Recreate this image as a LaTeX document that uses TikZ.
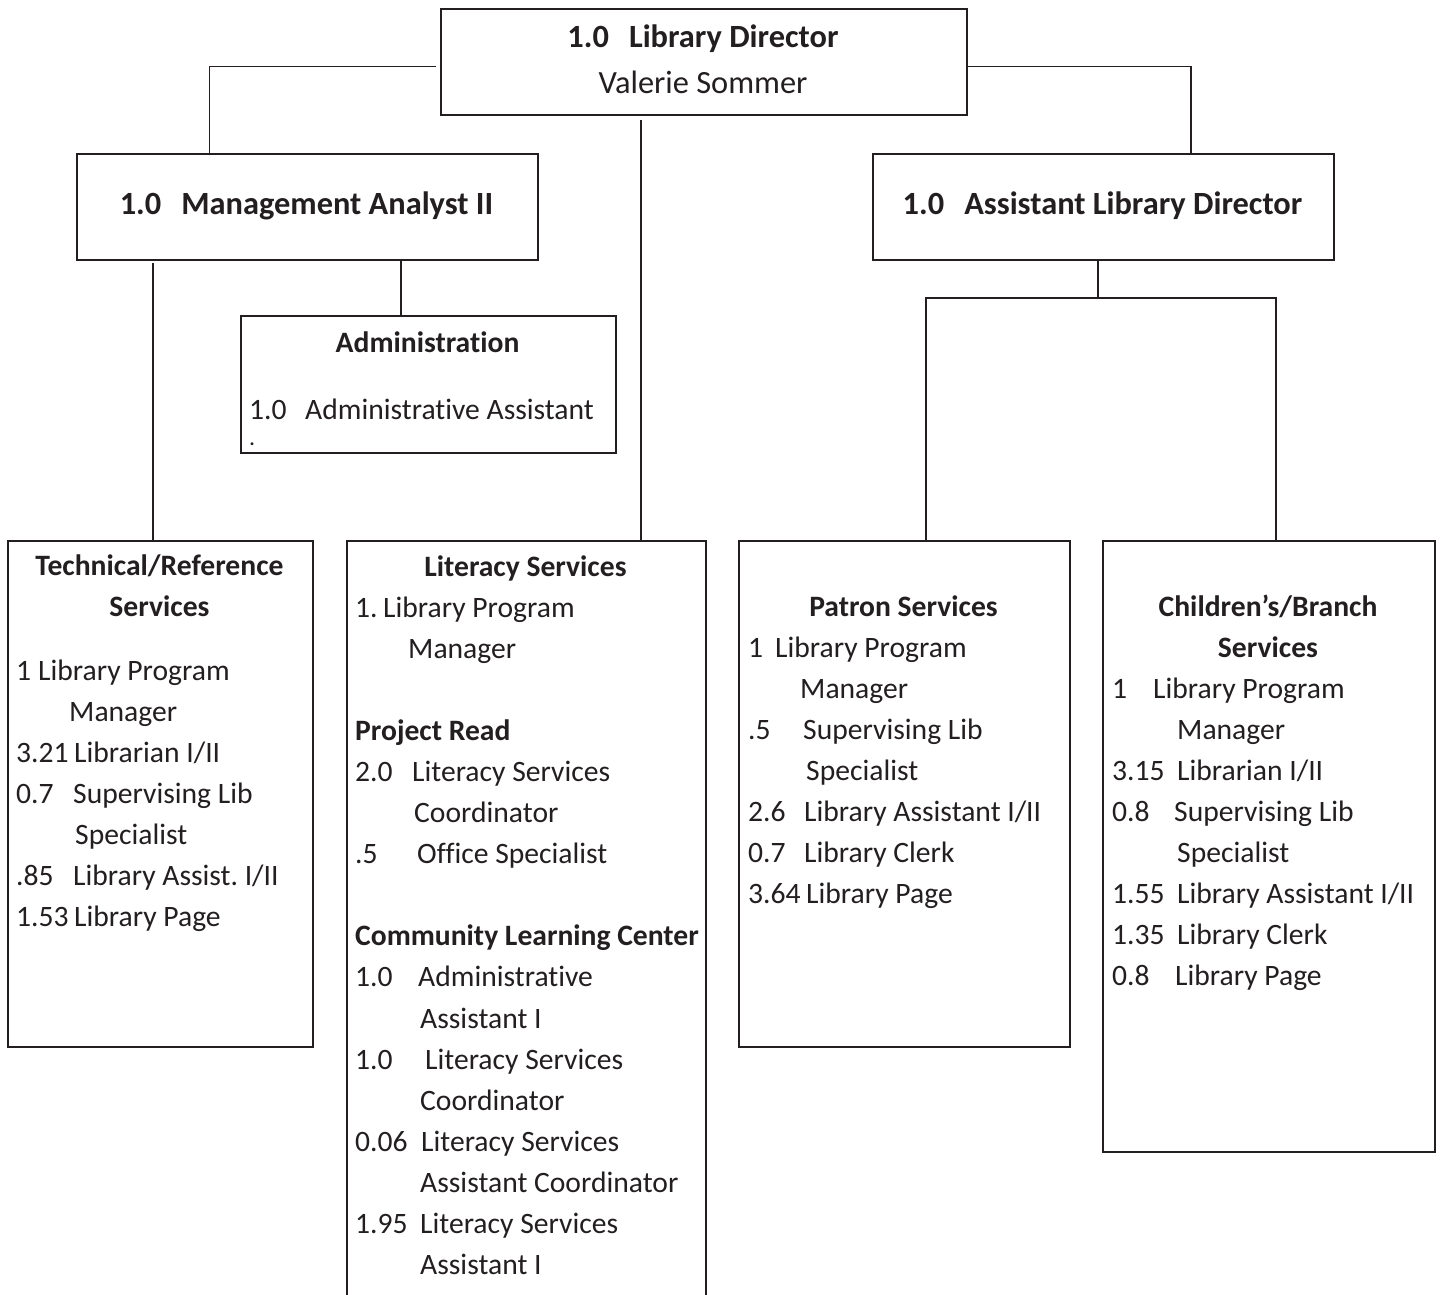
\documentclass[tikz,border=0pt]{standalone}
\usepackage{fontspec}
\setmainfont{Carlito}[Ligatures=NoCommon]
\usetikzlibrary{calc}
\frenchspacing
\definecolor{ink}{RGB}{35,31,32}
\newcommand\fs{\fontsize{29.6}{41.1}\selectfont}
\newcommand\fstop{\fontsize{32.4}{41.1}\selectfont}
\newcommand\num[2]{\makebox[#1][l]{#2}}
\newcommand\lines[1]{\begin{tabular}[t]{@{}l@{}}#1\end{tabular}}
\tikzset{
  orgbox/.style={draw=ink, line width=2.2pt, inner sep=0, anchor=north west},
  link/.style={draw=ink, line width=1.9pt},
  body/.style={inner sep=0, anchor=base west, font=\fs, text=ink},
  head/.style={inner sep=0, anchor=base, font=\fs\bfseries, text=ink},
  tophead/.style={inner sep=0, anchor=base, font=\fstop\bfseries, text=ink},
  topplain/.style={inner sep=0, anchor=base, font=\fstop, text=ink}
}
\begin{document}
\begin{tikzpicture}[x=1pt,y=-1pt]
\useasboundingbox[fill=white] (0,0) rectangle (1443,1295);
\clip (0,0) rectangle (1443,1295);

% boxes
\node[orgbox, minimum width=526pt, minimum height=106pt] (dir) at (440,8) {};
\node[orgbox, minimum width=461pt, minimum height=106pt] (ma)  at (76,153) {};
\node[orgbox, minimum width=461pt, minimum height=106pt] (ald) at (872,153) {};
\node[orgbox, minimum width=375pt, minimum height=137pt] (adm) at (240,315) {};
\node[orgbox, minimum width=305pt, minimum height=506pt] (tech) at (7,540) {};
\node[orgbox, minimum width=359pt, minimum height=800pt] (lit) at (346,540) {};
\node[orgbox, minimum width=331pt, minimum height=506pt] (pat) at (738,540) {};
\node[orgbox, minimum width=332pt, minimum height=611pt] (chi) at (1102,540) {};

% connectors
\coordinate (dl) at (436,66.5);
\coordinate (bus) at (1098,298);
\draw[link] (dl) -| ($(ma.north west)+(133.5,0)$);
\draw[link] ($(dir.north east)+(0,58.5)$) -| ($(ald.north west)+(319,0)$);
\draw[link] ($(dir.south west)+(201,4)$) -- ($(lit.north west)+(295,0)$);
\draw[link] ($(ma.south west)+(77,2)$) -- ($(tech.north west)+(146,0)$);
\draw[link] ($(ma.south west)+(325,0)$) -- ($(adm.north west)+(161,0)$);
\draw[link] ($(ald.south west)+(226,0)$) -- (bus);
\draw[link] ($(pat.north west)+(188,0)$) |- (bus) -| ($(chi.north west)+(174,0)$);

% top level
\node[tophead] (dirt) at (703,48) {1.0\hspace{0.62em}Library Director};
\node[topplain] (dirn) at (703,94) {Valerie Sommer};
\node[tophead] (mat) at (306.5,214) {1.0\hspace{0.62em}Management Analyst II};
\node[tophead] (aldt) at (1102.5,214) {1.0\hspace{0.62em}Assistant Library Director};

% administration
\node[head] (admt) at (427.5,352) {Administration};
\node[body] (admb) at (249,419) {\num{56pt}{1.0}Administrative Assistant};
\node[inner sep=0, anchor=base west, font=\fontsize{24}{26}\selectfont, text=ink] (admd) at (249,445) {.};

% technical / reference
\node[head] (techt1) at (159.5,575) {Technical/Reference};
\node[head] (techt2) at (159.5,616) {Services};
\node[body] (techb) at (16,680) {\lines{%
  \num{22pt}{1}Library Program\\
  \hspace*{53pt}Manager\\
  \num{58pt}{3.21}Librarian I/II\\
  \num{57pt}{0.7}Supervising Lib\\
  \hspace*{59pt}Specialist\\
  \num{57pt}{.85}Library Assist. I/II\\
  \num{58pt}{1.53}Library Page}};

% literacy
\node[head] (litt) at (525.5,576) {Literacy Services};
\node[body] (litb) at (355,617) {\lines{%
  \num{28pt}{1.}Library Program\\
  \hspace*{53pt}Manager\\
  \\
  \textbf{Project Read}\\
  \num{57pt}{2.0}Literacy Services\\
  \hspace*{59pt}Coordinator\\
  \num{62pt}{.5}Office Specialist\\
  \\
  \textbf{Community Learning Center}\\
  \num{63pt}{1.0}Administrative\\
  \hspace*{65pt}Assistant I\\
  \num{70pt}{1.0}Literacy Services\\
  \hspace*{65pt}Coordinator\\
  \num{66pt}{0.06}Literacy Services\\
  \hspace*{65pt}Assistant Coordinator\\
  \num{65pt}{1.95}Literacy Services\\
  \hspace*{65pt}Assistant I}};

% patron
\node[head] (patt) at (903.5,616) {Patron Services};
\node[body] (patb) at (748,657) {\lines{%
  \num{27pt}{1}Library Program\\
  \hspace*{52pt}Manager\\
  \num{55pt}{.5}Supervising Lib\\
  \hspace*{58pt}Specialist\\
  \num{56pt}{2.6}Library Assistant I/II\\
  \num{56pt}{0.7}Library Clerk\\
  \num{58pt}{3.64}Library Page}};

% children / branch
\node[head] (chit1) at (1268,616) {Children’s/Branch};
\node[head] (chit2) at (1268,657) {Services};
\node[body] (chib) at (1112,698) {\lines{%
  \num{41pt}{1}Library Program\\
  \hspace*{65pt}Manager\\
  \num{65pt}{3.15}Librarian I/II\\
  \num{62pt}{0.8}Supervising Lib\\
  \hspace*{65pt}Specialist\\
  \num{65pt}{1.55}Library Assistant I/II\\
  \num{65pt}{1.35}Library Clerk\\
  \num{63pt}{0.8}Library Page}};
\end{tikzpicture}
\end{document}
